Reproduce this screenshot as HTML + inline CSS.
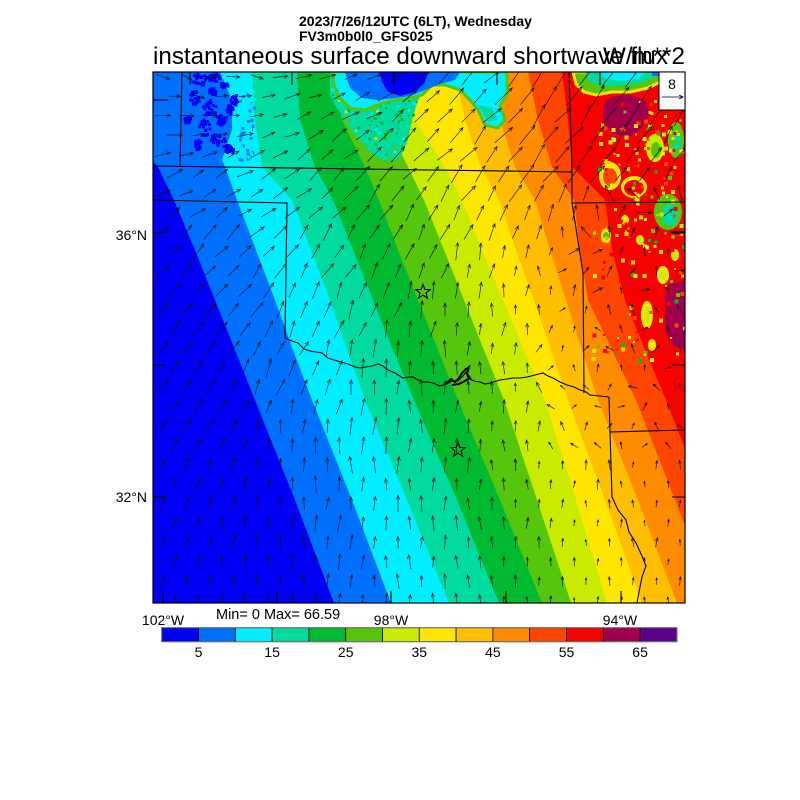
<!DOCTYPE html>
<html><head><meta charset="utf-8">
<style>
html,body{margin:0;padding:0;background:#fff;}
svg{display:block;}
text{font-family:"Liberation Sans",Arial,sans-serif;fill:#000;}
</style></head>
<body>
<svg id="s" xmlns="http://www.w3.org/2000/svg" width="800" height="800" viewBox="0 0 800 800">
<defs><clipPath id="mc"><rect x="153" y="72" width="532" height="531"/></clipPath></defs>
<rect width="800" height="800" fill="#fff"/>
<g id="field" clip-path="url(#mc)" shape-rendering="crispEdges"></g>
<g id="lines" clip-path="url(#mc)" fill="none" stroke="#000" stroke-width="1.1">
<path d="M182,72 L180,167"/>
<path d="M153,100 L168,100"/>
<path d="M153,166 L572,172"/>
<path d="M153,200 L287,203 L285,338"/>
<path d="M569,72 L572,170 L572,203 L583,273 L584,393"/>
<path d="M572,203 L685,202"/>
<path d="M670,232 L685,232"/>
<path d="M285,338 L292,341 L298,343 L304,349 L310,351 L316,352 L322,353 L328,358 L334,360 L341,362 L348,364 L355,367 L360,368 L366,367 L372,366 L378,364 L383,366 L388,370 L395,373 L403,378 L408,377 L413,377 L418,380 L423,382 L428,382 L433,383 L440,386 L446,384 L452,381 L458,381 L463,376 L466,372 L468,378 L474,381 L480,382 L485,384 L490,383 L500,380 L507,379 L513,378 L520,378 L527,377 L535,375 L543,373 L548,376 L553,378 L560,382 L567,385 L574,387 L580,390 L586,392 L590,395 L600,396 L609,397"/>
<path d="M447,383 L451,379 L455,382 L459,378 L462,373 L466,369 L469,367 L467,374 L470,378 L465,381 L459,384 L452,385" stroke-width="2"/>
<path d="M609,397 L610,432 L612,497 L618,510 L626,520 L629,532 L636,543 L642,556 L646,566 L642,577 L639,592 L637,603"/>
<path d="M610,432 L685,430"/>
<path d="M163,603 V591 M277,603 V591 M391,603 V591 M506,603 V591 M621,603 V591"/>
<path d="M190,72 V85 M292,72 V85 M394,72 V85 M497,72 V85 M600,72 V85"/>
<path d="M153,233 H166 M153,365 H166 M153,497 H166 M672,233 H685 M672,365 H685 M672,497 H685"/>
</g>
<g id="arrows" clip-path="url(#mc)" stroke="#111" stroke-width="0.65" fill="none" stroke-linecap="round"></g>
<g fill="none" stroke="#000" stroke-width="1.1">
<polygon id="st1" points=""/>
<polygon id="st2" points=""/>
</g>
<rect x="153" y="72" width="532" height="531" fill="none" stroke="#000" stroke-width="1.2"/>
<rect x="659" y="72" width="26" height="38" fill="#fff" stroke="#000" stroke-width="1"/>
<text x="672" y="89" font-size="14" text-anchor="middle">8</text>
<path d="M662,97 L683,97 M679,95 L683,97 L679,99" stroke="#000" stroke-width="0.8" fill="none"/>
<text x="299" y="26" font-size="14" font-weight="bold">2023/7/26/12UTC (6LT), Wednesday</text>
<text x="299" y="41" font-size="14" font-weight="bold">FV3m0b0l0_GFS025</text>
<text x="153" y="64" font-size="24.2">instantaneous surface downward shortwave flux</text>
<text x="685" y="64" font-size="24.2" text-anchor="end">W/m**2</text>
<text x="147" y="240" font-size="14" text-anchor="end">36°N</text>
<text x="147" y="502" font-size="14" text-anchor="end">32°N</text>
<text x="163" y="625" font-size="14" text-anchor="middle">102°W</text>
<text x="391" y="625" font-size="14" text-anchor="middle">98°W</text>
<text x="620" y="625" font-size="14" text-anchor="middle">94°W</text>
<text x="216" y="619" font-size="14.5">Min= 0 Max= 66.59</text>
<g id="cbar"></g>
<g font-size="14" text-anchor="middle">
<text x="198.5" y="657">5</text>
<text x="272.1" y="657">15</text>
<text x="345.7" y="657">25</text>
<text x="419.3" y="657">35</text>
<text x="492.9" y="657">45</text>
<text x="566.5" y="657">55</text>
<text x="640.1" y="657">65</text>
</g>
</svg>
<script>
(function(){
const NS="http://www.w3.org/2000/svg";
function el(tag,attrs,parent){const e=document.createElementNS(NS,tag);for(const k in attrs)e.setAttribute(k,attrs[k]);parent.appendChild(e);return e;}
function pts(a){return a.map(p=>p[0]+','+p[1]).join(' ');}
let seed=12345;function rnd(){seed=(seed*1103515245+12345)&0x7fffffff;return seed/0x7fffffff;}
const C=['#0000f5','#0070ff','#00eeff','#00dba0','#00bb32','#55c60c','#c8eb00','#ffe600','#ffbf00','#ff8c00','#ff4600','#f70000','#a0004b','#5f008c'];
const F=document.getElementById('field');
el('rect',{x:153,y:72,width:532,height:531,fill:C[0]},F);
const B=[
[[140,72],[140,158],[153,162],[158,167],[174,200],[195,250],[215,300],[235,350],[255,400],[295,500],[334,603]],
[[220,72],[232,100],[232,130],[222,160],[225,167],[237,200],[256,250],[275,300],[293,350],[312,400],[352,500],[391,603]],
[[252,72],[255,120],[262,167],[292,200],[311,250],[330,300],[347,350],[365,400],[407,500],[449,603]],
[[297,72],[300,120],[315,167],[333,200],[353,250],[373,300],[393,350],[414,400],[457,500],[499,603]],
[[330,72],[342,120],[365,167],[379,200],[398,250],[418,300],[438,350],[458,400],[500,500],[542,603]],
[[375,72],[385,120],[408,167],[424,200],[444,250],[464,300],[484,350],[504,400],[537,500],[571,603]],
[[405,72],[415,120],[445,167],[462,200],[482,250],[503,300],[524,350],[545,400],[576,500],[607,603]],
[[455,72],[465,120],[481,167],[499,200],[516,250],[534,300],[551,350],[568,400],[605,500],[642,603]],
[[492,72],[500,120],[515,167],[535,200],[550,250],[566,300],[582,350],[598,400],[638,500],[677,603]],
[[528,72],[538,120],[552,167],[574,200],[580,250],[588,300],[612,350],[636,400],[675,500],[715,603]],
[[562,72],[568,120],[572,167],[605,200],[612,250],[625,300],[645,350],[666,400],[705,500],[745,603]]
];
B.forEach((b,i)=>{el('polygon',{points:pts(b.concat([[760,603],[760,72]])),fill:C[i+1]},F);});

// top-left dark blotches (pixelated clusters)
const tl=[[200,80,8,6],[215,78,6,5],[195,98,5,7],[210,108,7,9],[222,120,5,6],[205,128,6,8],[218,140,8,6],[228,150,6,5],[235,100,4,6],[188,120,3,4],[213,92,4,4],[225,85,4,3],[198,145,4,5],[230,110,3,5]];
tl.forEach(e=>{for(let i=0;i<22;i++){const a=rnd()*6.283,r=Math.sqrt(rnd());const x=e[0]+Math.cos(a)*r*e[2],y=e[1]+Math.sin(a)*r*e[3];el('rect',{x:(x-1.5).toFixed(1),y:(y-1.5).toFixed(1),width:3,height:3,fill:C[0]},F);}});
for(let i=0;i<60;i++){const x=238+rnd()*16,y=90+rnd()*70;el('rect',{x:x.toFixed(1),y:y.toFixed(1),width:3,height:3,fill:rnd()<0.6?C[2]:C[1]},F);}

// top centre cloud
const T1=[[330,72],[420,72],[428,85],[418,100],[412,120],[408,140],[400,158],[390,162],[378,158],[368,150],[355,135],[345,120],[335,105],[330,95]];
el('polygon',{points:pts(T1),fill:C[3]},F);
function inPoly(x,y,p){let c=false;for(let i=0,j=p.length-1;i<p.length;j=i++){if(((p[i][1]>y)!=(p[j][1]>y))&&(x<(p[j][0]-p[i][0])*(y-p[i][1])/(p[j][1]-p[i][1])+p[i][0]))c=!c;}return c;}
for(let i=0;i<200;i++){const x=330+rnd()*100,y=85+rnd()*80;if(!inPoly(x,y,T1))continue;const r=rnd();const col=r<0.45?C[4]:(r<0.75?C[5]:(r<0.9?C[2]:C[6]));const s=2+Math.floor(rnd()*2);el('rect',{x:x.toFixed(1),y:y.toFixed(1),width:s,height:s,fill:col},F);}
const C1=[[333,72],[507,72],[507,95],[500,105],[505,120],[498,128],[485,125],[478,110],[470,100],[460,90],[445,85],[432,85],[422,95],[410,98],[395,100],[380,104],[365,110],[350,108],[340,98],[334,85]];
el('polygon',{points:pts(C1),fill:C[2],stroke:C[5],'stroke-width':3},F);
el('polygon',{points:pts([[478,105],[492,108],[498,120],[488,122]]),fill:C[3]},F);
el('polygon',{points:pts([[345,72],[460,72],[455,80],[440,84],[425,90],[410,96],[395,98],[378,100],[362,98],[350,88]]),fill:C[1]},F);
el('polygon',{points:pts([[380,72],[428,72],[425,82],[415,92],[400,96],[388,92],[382,82]]),fill:C[0]},F);

// top-right cloud
el('polygon',{points:pts([[573,72],[660,72],[660,82],[648,88],[630,92],[612,92],[596,95],[584,92],[576,84]]),fill:C[5],stroke:C[7],'stroke-width':3},F);
el('polygon',{points:pts([[585,72],[657,72],[650,80],[630,85],[605,86],[590,82]]),fill:C[3]},F);
el('polygon',{points:pts([[600,72],[645,72],[638,79],[620,81],[604,78]]),fill:C[2]},F);
el('rect',{x:652,y:72,width:8,height:4,fill:C[1]},F);
el('polygon',{points:pts([[608,98],[628,94],[645,100],[650,114],[642,128],[628,138],[613,134],[603,122],[603,106]]),fill:C[12]},F);
el('polygon',{points:pts([[668,285],[685,280],[685,350],[672,345],[665,330],[665,300]]),fill:C[12]},F);
const blobs=[[610,176,11,14,C[7]],[610,177,7,9,C[10]],[634,187,13,11,C[7]],[634,188,10,8,C[11]],
[655,148,9,14,C[6]],[656,150,5,8,C[5]],[676,140,8,18,C[5]],[677,142,4,9,C[3]],
[668,212,14,18,C[5]],[670,215,8,11,C[3]],[606,236,5,8,C[7]],[606,236,3,4,C[5]],
[647,315,6,14,C[7]],[647,315,3,9,C[6]],[663,275,6,9,C[7]],[663,275,3,5,C[6]],[640,240,4,5,C[6]],[625,220,4,5,C[7]],[675,255,4,6,C[6]],[652,345,4,6,C[7]]];
blobs.forEach(e=>el('ellipse',{cx:e[0],cy:e[1],rx:e[2],ry:e[3],fill:e[4]},F));
for(let i=0;i<420;i++){const x=588+rnd()*97,y=100+rnd()*260;if(x>655&&y<112)continue;
 let dens=(y<260)?0.8:0.4; if(x<600)dens*=0.4; if(rnd()>dens)continue;
 const r=rnd();const col=r<0.25?C[7]:(r<0.42?C[6]:(r<0.7?C[11]:(r<0.78?C[5]:(r<0.83?C[4]:(r<0.86?C[3]:C[10])))));
 const s=2+Math.floor(rnd()*3);el('rect',{x:x.toFixed(1),y:y.toFixed(1),width:s,height:s,fill:col},F);}

// arrows
const A=document.getElementById('arrows');
const XN=[153,260,360,460,560,685],YN=[72,167,250,350,450,603];
const AT=[[110,100,70,45,40,35],[70,60,45,40,35,35],[45,40,30,15,10,30],[45,30,15,5,0,0],[30,10,0,0,0,0],[10,0,0,0,0,0]];
const LT=[[12,13,15,20,24,24],[15,15,18,20,22,18],[17,17,18,16,10,8],[17,17,17,14,8,8],[14,14,15,14,8,7],[12,13,14,13,8,7]];
function bil(T,x,y){let i=0;while(i<XN.length-2&&x>XN[i+1])i++;let j=0;while(j<YN.length-2&&y>YN[j+1])j++;
 const tx=Math.max(0,Math.min(1,(x-XN[i])/(XN[i+1]-XN[i]))),ty=Math.max(0,Math.min(1,(y-YN[j])/(YN[j+1]-YN[j])));
 return T[j][i]*(1-tx)*(1-ty)+T[j][i+1]*tx*(1-ty)+T[j+1][i]*(1-tx)*ty+T[j+1][i+1]*tx*ty;}
let d='';
for(let r=0;r<28;r++){const y=76.8+r*19.4;const x0=(r%2===0)?163:174.75;
 for(let x=x0;x<685;x+=23.5){ if(x>655&&y<114)continue;
  let th=bil(AT,x,y),L=bil(LT,x,y);
  let jit=12; if(x>530&&y>230&&y<460)jit=60; if(x>585&&y>190&&y<440)jit=80;
  th+=(rnd()*2-1)*jit; L+=(rnd()*2-1)*2.5; if(L<4)L=4;
  const t=th*Math.PI/180,dx=Math.sin(t),dy=-Math.cos(t);
  const tx=x-dx*L/2,ty=y-dy*L/2,hx=x+dx*L/2,hy=y+dy*L/2;
  const h=Math.min(4,0.35*L),a=22*Math.PI/180;
  const bx=-dx,by=-dy;
  const w1x=hx+h*(bx*Math.cos(a)-by*Math.sin(a)),w1y=hy+h*(bx*Math.sin(a)+by*Math.cos(a));
  const w2x=hx+h*(bx*Math.cos(-a)-by*Math.sin(-a)),w2y=hy+h*(bx*Math.sin(-a)+by*Math.cos(-a));
  d+='M'+tx.toFixed(1)+','+ty.toFixed(1)+'L'+hx.toFixed(1)+','+hy.toFixed(1)+'M'+w1x.toFixed(1)+','+w1y.toFixed(1)+'L'+hx.toFixed(1)+','+hy.toFixed(1)+'L'+w2x.toFixed(1)+','+w2y.toFixed(1);
 }}
el('path',{d:d},A);

function star(cx,cy,ro,ri){const p=[];for(let k=0;k<10;k++){const rr=k%2?ri:ro;const an=-Math.PI/2+k*Math.PI/5;p.push([(cx+rr*Math.cos(an)).toFixed(1),(cy+rr*Math.sin(an)).toFixed(1)]);}return pts(p);}
document.getElementById('st1').setAttribute('points',star(423,292,7.5,3.2));
document.getElementById('st2').setAttribute('points',star(458,450,7.5,3.2));

const CB=document.getElementById('cbar');
const w=515.2/14;
for(let k=0;k<14;k++){el('rect',{x:(161.7+k*w).toFixed(2),y:627.7,width:w.toFixed(2),height:14,fill:C[k],stroke:'#000','stroke-width':0.8},CB);}
el('rect',{x:161.7,y:627.7,width:515.2,height:14,fill:'none',stroke:'#777','stroke-width':1},CB);
})();
</script>
</body></html>
